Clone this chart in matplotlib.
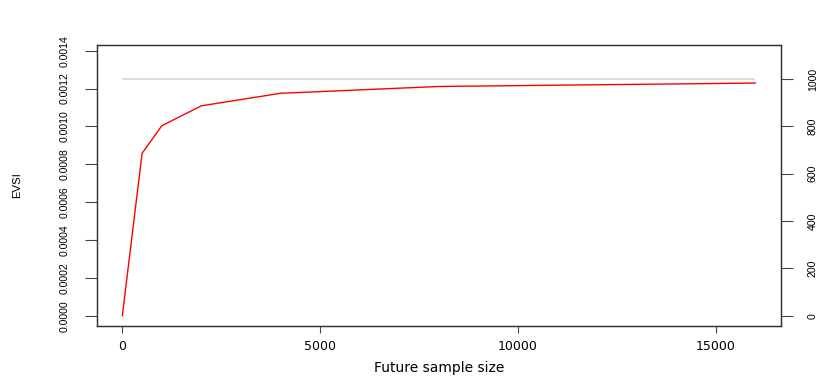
import matplotlib
matplotlib.use("Agg")
import matplotlib.pyplot as plt

# Data
sample_sizes = [0, 500, 1000, 2000, 4000, 8000, 16000]
evsi_values = [0.0, 0.000858, 0.001004, 0.001109, 0.001175, 0.001211, 0.001229]
evpi_value = 0.00125
left_ticks = [0.0, 0.0002, 0.0004, 0.0006, 0.0008, 0.0010, 0.0012, 0.0014]
right_ticks = [0, 200, 400, 600, 800, 1000]
x_ticks = [0, 5000, 10000, 15000]

yfont = "Liberation Sans"

fig = plt.figure(figsize=(8.3, 3.83), dpi=100)
W, H = 830, 383
ax = fig.add_axes([97 / W, 57 / H, (780.7 - 97) / W, (326 - 44.7) / H])

ax.plot([sample_sizes[0], sample_sizes[-1]], [evpi_value, evpi_value],
        color="#d9d9d9", lw=1.3, solid_capstyle="butt")
ax.plot(sample_sizes, evsi_values, color="red", lw=1.0)

ylo, yhi = -0.0000544, 0.0014317
ax.set_ylim(ylo, yhi)
ax.set_xlim(-640, 16640)

ax.set_xticks(x_ticks)
ax.set_xticklabels([str(v) for v in x_ticks], family="DejaVu Sans", fontsize=9)
ax.set_yticks(left_ticks)
ax.set_yticklabels([f"{v:.4f}" for v in left_ticks], rotation=90, va="center",
                   family=yfont, fontsize=7.6)

ax2 = ax.twinx()
ax2.set_ylim(ylo * 1000 / evpi_value, yhi * 1000 / evpi_value)
ax2.set_yticks(right_ticks)
ax2.set_yticklabels([str(v) for v in right_ticks], rotation=90, va="center",
                    family=yfont, fontsize=7.6)

spine_c = "#333333"
for a in (ax, ax2):
    for s in a.spines.values():
        s.set_color(spine_c)
        s.set_linewidth(0.9)

ax.tick_params(axis="y", length=8.6, width=0.8, color="#444444", pad=11)
ax.tick_params(axis="x", length=5, width=0.8, color="#444444", pad=5)
ax2.tick_params(axis="y", length=8.6, width=0.8, color="#444444", pad=11)

ax.set_xlabel("Future sample size", family="DejaVu Sans", fontsize=10, labelpad=6)
ax.set_ylabel("EVSI", family=yfont, fontsize=8.2, labelpad=27)

fig.savefig("out.png", dpi=100)
